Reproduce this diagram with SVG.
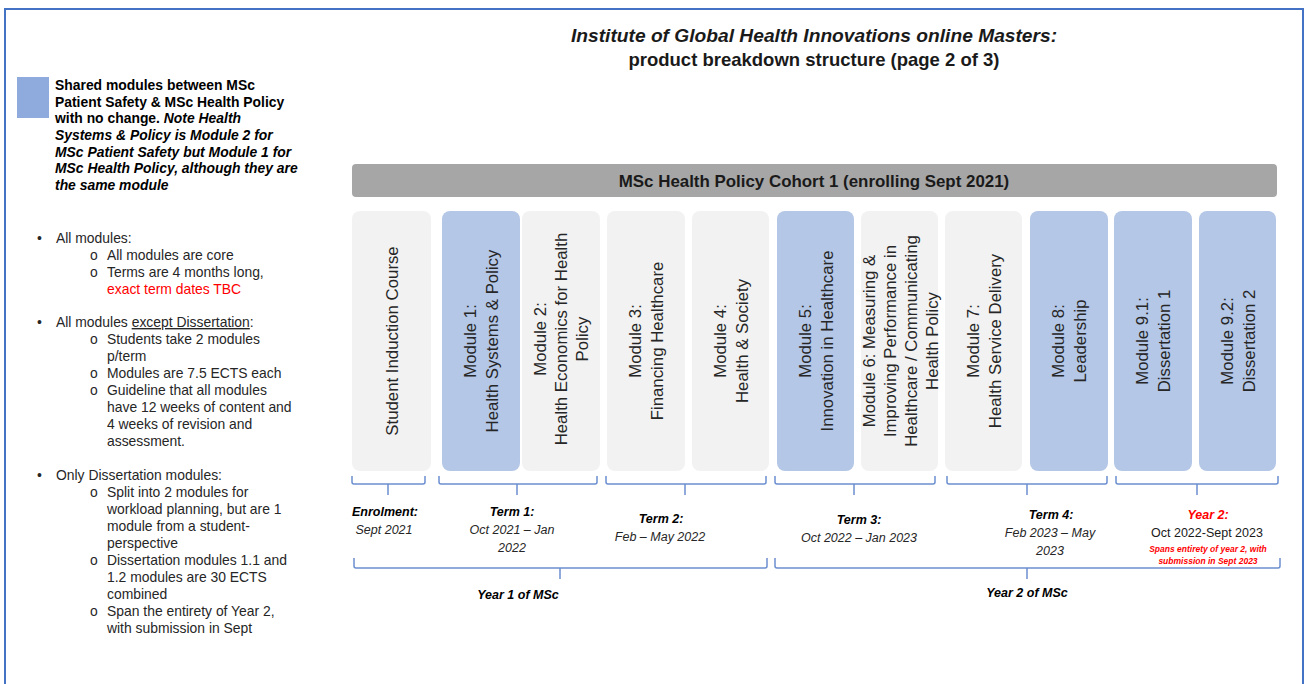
<svg xmlns="http://www.w3.org/2000/svg" width="1305" height="684" viewBox="0 0 1305 684">
<style>
text{font-family:"Liberation Sans",Arial,sans-serif;fill:#1a1a1a}
.frame{stroke:#4472c4;stroke-width:2;fill:none}
.gray{fill:#f2f2f2}
.blue{fill:#b4c7e7}
.mod{font-size:16.8px;fill:#262626;text-anchor:middle}
.brace{fill:none;stroke:#6b8ed0;stroke-width:1.5}
.lab{font-size:12.5px;font-style:italic;text-anchor:middle;fill:#262626}
.labb{font-size:12.5px;font-style:italic;font-weight:bold;text-anchor:middle;fill:#000}
.leg{font-size:13.9px;fill:#262626}
.legb{font-size:13.9px;font-weight:bold;fill:#000}
.red{fill:#ff0000}
</style>
<rect width="1305" height="684" fill="#fff"/>
<g id="frame">
<path class="frame" d="M4 9 H1304 M5 9 V684 M1303 9 V684"/>
</g>
<g id="title">
<text x="814" y="42" font-size="19.2" font-weight="bold" font-style="italic" text-anchor="middle" fill="#000">Institute of Global Health Innovations online Masters:</text>
<text x="814" y="66" font-size="18.5" font-weight="bold" text-anchor="middle" fill="#000">product breakdown structure (page 2 of 3)</text>
</g>
<g id="legend">
<rect x="17" y="77" width="32" height="41" fill="#8faadc"/>
<text class="legb" x="55" y="90">Shared modules between MSc</text>
<text class="legb" x="55" y="106.5">Patient Safety &amp; MSc Health Policy</text>
<text class="legb" x="55" y="123">with no change. <tspan font-style="italic">Note Health</tspan></text>
<text class="legb" x="55" y="140" font-style="italic">Systems &amp; Policy is Module 2 for</text>
<text class="legb" x="55" y="156.5" font-style="italic">MSc Patient Safety but Module 1 for</text>
<text class="legb" x="55" y="173" font-style="italic">MSc Health Policy, although they are</text>
<text class="legb" x="55" y="189.5" font-style="italic">the same module</text>
</g>
<g id="notes" class="leg">
<text class="leg" x="37" y="243">•</text>
<text class="leg" x="56" y="243">All modules:</text>
<text class="leg" x="90" y="260">o</text>
<text class="leg" x="107" y="260">All modules are core</text>
<text class="leg" x="90" y="277">o</text>
<text class="leg" x="107" y="277">Terms are 4 months long,</text>
<text class="leg red" x="107" y="294">exact term dates TBC</text>
<text class="leg" x="37" y="327">•</text>
<text class="leg" x="56" y="327">All modules <tspan text-decoration="underline">except Dissertation</tspan>:</text>
<text class="leg" x="90" y="344">o</text>
<text class="leg" x="107" y="344">Students take 2 modules</text>
<text class="leg" x="107" y="361">p/term</text>
<text class="leg" x="90" y="378">o</text>
<text class="leg" x="107" y="378">Modules are 7.5 ECTS each</text>
<text class="leg" x="90" y="395">o</text>
<text class="leg" x="107" y="395">Guideline that all modules</text>
<text class="leg" x="107" y="412">have 12 weeks of content and</text>
<text class="leg" x="107" y="429">4 weeks of revision and</text>
<text class="leg" x="107" y="446">assessment.</text>
<text class="leg" x="37" y="480">•</text>
<text class="leg" x="56" y="480">Only Dissertation modules:</text>
<text class="leg" x="90" y="497">o</text>
<text class="leg" x="107" y="497">Split into 2 modules for</text>
<text class="leg" x="107" y="514">workload planning, but are 1</text>
<text class="leg" x="107" y="531">module from a student-</text>
<text class="leg" x="107" y="548">perspective</text>
<text class="leg" x="90" y="565">o</text>
<text class="leg" x="107" y="565">Dissertation modules 1.1 and</text>
<text class="leg" x="107" y="582">1.2 modules are 30 ECTS</text>
<text class="leg" x="107" y="599">combined</text>
<text class="leg" x="90" y="616">o</text>
<text class="leg" x="107" y="616">Span the entirety of Year 2,</text>
<text class="leg" x="107" y="633">with submission in Sept</text>
</g>
<g id="cohort-bar">
<rect x="352" y="164" width="925" height="33" rx="4" fill="#a6a6a6"/>
<text x="814" y="187" font-size="16.9" font-weight="bold" text-anchor="middle" fill="#000">MSc Health Policy Cohort 1 (enrolling Sept 2021)</text>
</g>
<g id="induction">
<rect class="gray" x="352" y="211" width="79" height="260" rx="8"/>
<text class="mod" transform="translate(391.5 341) rotate(-90)" x="0" y="6">Student Induction Course</text>
</g>
<g id="module1">
<rect class="blue" x="442" y="211" width="78" height="260" rx="8"/>
<text class="mod" transform="translate(481 341) rotate(-90)"><tspan x="0" y="-5">Module 1:</tspan><tspan x="0" y="17">Health Systems &amp; Policy</tspan></text>
</g>
<g id="module2">
<rect class="gray" x="522" y="211" width="78" height="260" rx="8"/>
<text class="mod" transform="translate(561 339) rotate(-90)"><tspan x="0" y="-15">Module 2:</tspan><tspan x="0" y="6">Health Economics for Health</tspan><tspan x="0" y="27">Policy</tspan></text>
</g>
<g id="module3">
<rect class="gray" x="607" y="211" width="78" height="260" rx="8"/>
<text class="mod" transform="translate(646 341) rotate(-90)"><tspan x="0" y="-5">Module 3:</tspan><tspan x="0" y="17">Financing Healthcare</tspan></text>
</g>
<g id="module4">
<rect class="gray" x="692" y="211" width="77" height="260" rx="8"/>
<text class="mod" transform="translate(730.5 341) rotate(-90)"><tspan x="0" y="-5">Module 4:</tspan><tspan x="0" y="17">Health &amp; Society</tspan></text>
</g>
<g id="module5">
<rect class="blue" x="777" y="211" width="77" height="260" rx="8"/>
<text class="mod" transform="translate(815.5 341) rotate(-90)"><tspan x="0" y="-5">Module 5:</tspan><tspan x="0" y="17">Innovation in Healthcare</tspan></text>
</g>
<g id="module6">
<rect class="gray" x="861" y="211" width="77" height="260" rx="8"/>
<text class="mod" transform="translate(899.5 341) rotate(-90)"><tspan x="0" y="-25">Module 6: Measuring &amp;</tspan><tspan x="0" y="-4">Improving Performance in</tspan><tspan x="0" y="17">Healthcare / Communicating</tspan><tspan x="0" y="38">Health Policy</tspan></text>
</g>
<g id="module7">
<rect class="gray" x="945" y="211" width="77" height="260" rx="8"/>
<text class="mod" transform="translate(983.5 341) rotate(-90)"><tspan x="0" y="-5">Module 7:</tspan><tspan x="0" y="17">Health Service Delivery</tspan></text>
</g>
<g id="module8">
<rect class="blue" x="1030" y="211" width="78" height="260" rx="8"/>
<text class="mod" transform="translate(1069 341) rotate(-90)"><tspan x="0" y="-5">Module 8:</tspan><tspan x="0" y="17">Leadership</tspan></text>
</g>
<g id="module9-1">
<rect class="blue" x="1114" y="211" width="78" height="260" rx="8"/>
<text class="mod" transform="translate(1153 341) rotate(-90)"><tspan x="0" y="-5">Module 9.1:</tspan><tspan x="0" y="17">Dissertation 1</tspan></text>
</g>
<g id="module9-2">
<rect class="blue" x="1199" y="211" width="77" height="260" rx="8"/>
<text class="mod" transform="translate(1237.5 341) rotate(-90)"><tspan x="0" y="-5">Module 9.2:</tspan><tspan x="0" y="17">Dissertation 2</tspan></text>
</g>
<g id="connectors" class="brace">
<path d="M352 476 V482 Q352 484 354 484 H423 Q425 484 425 482 V476 M388 484 V495"/>
<path d="M439 476 V482 Q439 484 441 484 H595 Q597 484 597 482 V476 M517 484 V495"/>
<path d="M606 476 V482 Q606 484 608 484 H764 Q766 484 766 482 V476 M685 484 V495"/>
<path d="M775 476 V482 Q775 484 777 484 H933 Q935 484 935 482 V476 M854 484 V495"/>
<path d="M947 476 V482 Q947 484 949 484 H1105 Q1107 484 1107 482 V476 M1027 484 V495"/>
<path d="M1116 476 V482 Q1116 484 1118 484 H1276 Q1278 484 1278 482 V476 M1197 484 V495"/>
<path d="M354 558 V566 Q354 568 356 568 H765 Q767 568 767 566 V558 M560 568 V579"/>
<path d="M775 558 V566 Q775 568 777 568 H1278 Q1280 568 1280 566 V558 M1027 568 V579"/>
</g>
<g id="term-labels">
<text class="labb" x="385" y="516">Enrolment:</text>
<text class="lab" x="384" y="534">Sept 2021</text>
<text class="labb" x="512" y="516">Term 1:</text>
<text class="lab" x="512" y="534">Oct 2021 – Jan</text>
<text class="lab" x="512" y="552">2022</text>
<text class="labb" x="661" y="523">Term 2:</text>
<text class="lab" x="660" y="541">Feb – May 2022</text>
<text class="labb" x="859" y="524">Term 3:</text>
<text class="lab" x="859" y="542">Oct 2022 – Jan 2023</text>
<text class="labb" x="1051" y="519">Term 4:</text>
<text class="lab" x="1050" y="537">Feb 2023 – May</text>
<text class="lab" x="1050" y="555">2023</text>
<text class="labb red" x="1208" y="519">Year 2:</text>
<text x="1207" y="537" font-size="12.5" text-anchor="middle" fill="#262626">Oct 2022-Sept 2023</text>
<text x="1208" y="552" font-size="8.5" font-weight="bold" font-style="italic" text-anchor="middle" class="red">Spans entirety of year 2, with</text>
<text x="1208" y="564" font-size="8.5" font-weight="bold" font-style="italic" text-anchor="middle" class="red">submission in Sept 2023</text>
<text class="labb" x="518" y="599">Year 1 of MSc</text>
<text class="labb" x="1027" y="597">Year 2 of MSc</text>
</g>
</svg>
